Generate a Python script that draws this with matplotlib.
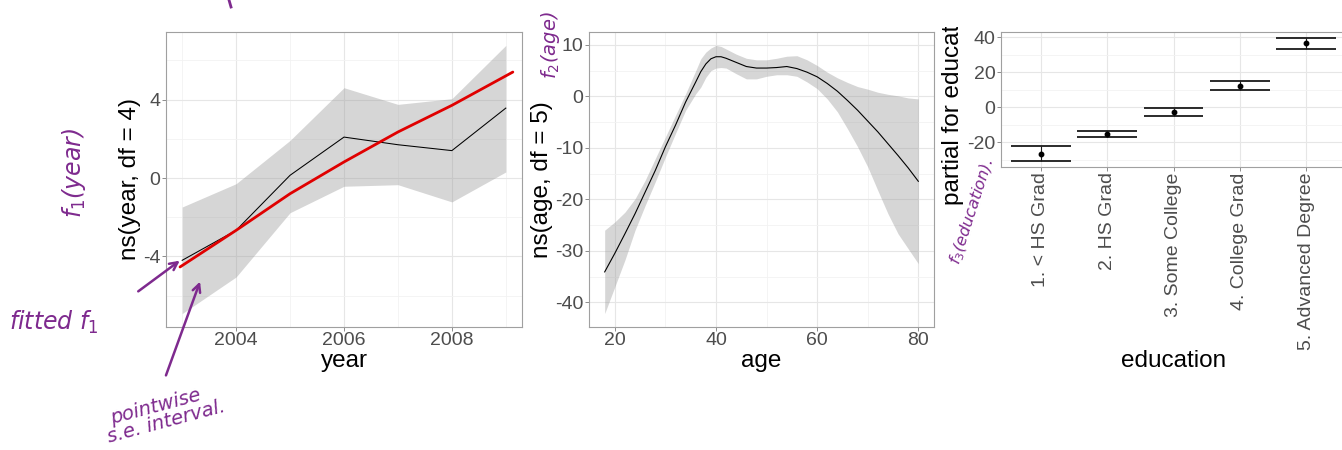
import matplotlib
matplotlib.use('Agg')
import matplotlib.pyplot as plt
from matplotlib.ticker import MultipleLocator, FixedLocator
from matplotlib.transforms import Bbox

# ---------------------------------------------------------------------------
# Values
# ---------------------------------------------------------------------------

# f1(year): partial fit and pointwise band
YEARS = [2003, 2004, 2005, 2006, 2007, 2008, 2009]
YEAR_FIT = [-4.2, -2.67, 0.14, 2.09, 1.70, 1.40, 3.57]
YEAR_UPPER = [-1.48, -0.29, 1.92, 4.61, 3.76, 4.05, 6.77]
YEAR_LOWER = [-6.92, -5.05, -1.77, -0.42, -0.34, -1.22, 0.31]

# red "fitted f1" trace drawn over the first panel
RED_X = [2002.96, 2004, 2005, 2006, 2007, 2008, 2009.13]
RED_Y = [-4.54, -2.67, -0.80, 0.82, 2.35, 3.71, 5.41]

# f2(age)
AGES = [18, 20, 22, 24, 26, 28, 30, 32, 34, 36, 37, 38, 39, 40, 41, 42, 44,
        46, 48, 50, 52, 54, 56, 58, 60, 62, 64, 66, 68, 70, 72, 74, 76, 78, 80]
AGE_FIT = [-34.1, -30.5, -26.7, -22.8, -18.6, -14.4, -9.8, -5.6,
           -1.1, 2.8, 4.8, 6.3, 7.3, 7.7, 7.7, 7.4,
           6.6, 5.8, 5.5, 5.5, 5.6, 5.8, 5.4, 4.7,
           3.8, 2.5, 1.0, -0.8, -2.7, -4.8, -6.9, -9.2,
           -11.5, -13.9, -16.5]
AGE_UPPER = [-26.0, -24.4, -22.5, -19.9, -16.3, -12.1, -7.9, -3.7,
             0.5, 5.0, 7.3, 8.6, 9.4, 9.9, 9.7, 9.2,
             8.2, 7.4, 7.1, 7.1, 7.4, 7.8, 7.9, 7.1,
             6.0, 4.7, 3.6, 2.7, 1.9, 1.4, 0.8, 0.4,
             0.1, -0.3, -0.5]
AGE_LOWER = [-42.2, -37.0, -31.8, -26.0, -21.2, -16.6, -11.8, -7.2,
             -2.7, 0.5, 1.8, 3.7, 5.0, 5.5, 5.6, 5.5,
             4.4, 3.4, 3.4, 3.9, 4.2, 4.2, 3.9, 2.8,
             1.5, -0.5, -3.0, -6.3, -9.8, -13.7, -18.3, -22.8,
             -26.7, -29.6, -32.5]

# f3(education): step function with +/- s.e.
EDUCATION = ['1. < HS Grad', '2. HS Grad', '3. Some College',
             '4. College Grad', '5. Advanced Degree']
EDU_FIT = [-26.5, -15.3, -2.8, 12.1, 36.4]
EDU_UPPER = [-22.3, -13.6, -0.4, 14.7, 39.4]
EDU_LOWER = [-30.4, -17.2, -5.1, 9.8, 33.2]

# ---------------------------------------------------------------------------
# Style
# ---------------------------------------------------------------------------

W, H = 1342, 450
FONT = 'Liberation Sans'
TICK_COLOR = '#4D4D4D'
BORDER = '#A0A0A0'
BAND = '#999999'
INK = '#7E2A8E'     # purple hand annotations

plt.rcParams['font.family'] = [FONT, 'DejaVu Sans']
plt.rcParams['mathtext.fontset'] = 'dejavusans'
plt.rcParams['axes.unicode_minus'] = False   # R prints a plain hyphen


def expand(lo, hi, mult=0.05):
    pad = (hi - lo) * mult
    return lo - pad, hi + pad


def px_axes(left, top, right, bottom):
    """Axes rect from pixel edges of the reference."""
    return [left / W, 1 - bottom / H, (right - left) / W, (bottom - top) / H]


def style_panel(ax, bottom_px, top_px):
    ax.set_facecolor('white')
    for s in ax.spines.values():
        s.set_color(BORDER)
        s.set_linewidth(0.8)
    ax.grid(True, which='major', color='#E6E6E6', lw=0.8)
    ax.grid(True, which='minor', color='#F2F2F2', lw=0.6)
    ax.set_axisbelow(True)
    ax.tick_params(which='major', length=2.75, width=0.7, color='#8C8C8C',
                   labelsize=14, labelcolor=TICK_COLOR, pad=1.2)
    ax.tick_params(which='minor', length=0)
    # axis title baseline sits at ~368 px in every panel
    ax.xaxis.set_label_coords(0.5, -(350.5 - bottom_px) / (bottom_px - top_px))


fig = plt.figure(figsize=(W / 100, H / 100), dpi=100)

# ---------------------------------------------------------------------------
# Panel 1: year
# ---------------------------------------------------------------------------
ax1 = fig.add_axes(px_axes(166, 32, 522, 327))
ax1.fill_between(YEARS, YEAR_LOWER, YEAR_UPPER, color=BAND, alpha=0.4, lw=0)
ax1.plot(YEARS, YEAR_FIT, color='black', lw=0.75)
ax1.plot(RED_X, RED_Y, color='#E00000', lw=2.0, solid_capstyle='round')
ax1.set_xlim(expand(min(YEARS), max(YEARS)))
ax1.set_ylim(expand(min(YEAR_LOWER), max(YEAR_UPPER)))
ax1.xaxis.set_major_locator(FixedLocator([2004, 2006, 2008]))
ax1.xaxis.set_minor_locator(FixedLocator([2003, 2005, 2007, 2009]))
ax1.yaxis.set_major_locator(MultipleLocator(4))
ax1.yaxis.set_minor_locator(FixedLocator([-6, -2, 2, 6]))
style_panel(ax1, 327, 32)
ax1.set_xlabel('year', fontsize=17.5)
ax1.set_ylabel('ns(year, df = 4)', fontsize=17.5)
ax1.yaxis.set_label_coords(-(166 - 141) / 356, 0.5)

# ---------------------------------------------------------------------------
# Panel 2: age
# ---------------------------------------------------------------------------
ax2 = fig.add_axes(px_axes(589, 32, 934, 327))
ax2.fill_between(AGES, AGE_LOWER, AGE_UPPER, color=BAND, alpha=0.4, lw=0)
ax2.plot(AGES, AGE_FIT, color='black', lw=0.8)
ax2.set_xlim(expand(min(AGES), max(AGES)))
ax2.set_ylim(expand(min(AGE_LOWER), max(AGE_UPPER)))
ax2.xaxis.set_major_locator(MultipleLocator(20))
ax2.xaxis.set_minor_locator(FixedLocator([30, 50, 70]))
ax2.yaxis.set_major_locator(MultipleLocator(10))
ax2.yaxis.set_minor_locator(FixedLocator([-35, -25, -15, -5, 5]))
style_panel(ax2, 327, 32)
ax2.set_xlabel('age', fontsize=17.5)
ax2.set_ylabel('ns(age, df = 5)', fontsize=17.5)
ax2.yaxis.set_label_coords(-(589 - 553) / 345, 0.5)

# ---------------------------------------------------------------------------
# Panel 3: education (runs off the right edge, like the reference)
# ---------------------------------------------------------------------------
ax3 = fig.add_axes(px_axes(1001, 32, 1346, 166.7))
pos = list(range(1, len(EDUCATION) + 1))
for x, lo, hi in zip(pos, EDU_LOWER, EDU_UPPER):
    ax3.hlines([lo, hi], x - 0.45, x + 0.45, color='#1A1A1A', lw=1.3)
    ax3.vlines(x, lo, hi, color='#1A1A1A', lw=0.8)
ax3.plot(pos, EDU_FIT, 'o', color='black', ms=3.2)
ax3.set_xlim(0.4, len(EDUCATION) + 0.6)
ax3.set_ylim(expand(min(EDU_LOWER), max(EDU_UPPER)))
ax3.set_xticks(pos)
ax3.set_xticklabels(EDUCATION, rotation=90, va='top', ha='center')
ax3.yaxis.set_major_locator(MultipleLocator(20))
ax3.yaxis.set_minor_locator(FixedLocator([-30, -10, 10, 30]))
style_panel(ax3, 166.7, 32)
ax3.set_xlabel('education', fontsize=17.5)

# y title is cut off at the top in the reference
ylab3 = fig.text(964 / W, 1 - 205 / H, 'partial for education', rotation=90,
                 ha='right', va='bottom', fontsize=17.5)
ylab3.set_clip_box(Bbox([[0, 0], [W, H - 27]]))
ylab3.set_clip_on(True)

# ---------------------------------------------------------------------------
# Hand-written annotations
# ---------------------------------------------------------------------------
hand = dict(color=INK, family=['DejaVu Sans'], style='italic')
fig.text(74 / W, 1 - 173 / H, r'$f_1$(year)', rotation=90, ha='center',
         va='center', fontsize=17, **hand)
fig.text(54 / W, 1 - 322 / H, r'fitted $f_1$', ha='center', va='center',
         fontsize=17, **hand)
fig.text(158 / W, 1 - 415 / H, 'pointwise\n  s.e. interval.', rotation=15,
         ha='center', va='center', fontsize=14, linespacing=0.9, **hand)
fig.text(551 / W, 1 - 45 / H, r'$f_2$(age)', rotation=90, ha='center',
         va='center', fontsize=14, **hand)
fig.text(972 / W, 1 - 212 / H, r'$f_3$(education).', rotation=72,
         ha='center', va='center', fontsize=11.5, **hand)

arrow = dict(arrowstyle='->', color=INK, lw=1.8, mutation_scale=14)
fig.add_artist(plt.Line2D([229 / W, 231 / W], [1.0, 1 - 7 / H], color=INK,
                          lw=2))
for (x0, y0), (x1, y1) in [((136, 293), (182, 259)),
                           ((165, 378), (201, 279))]:
    ax1.annotate('', xy=(x1, H - y1), xytext=(x0, H - y0),
                 xycoords='figure pixels', textcoords='figure pixels',
                 arrowprops=arrow, annotation_clip=False)

fig.savefig('out.png', dpi=100)
